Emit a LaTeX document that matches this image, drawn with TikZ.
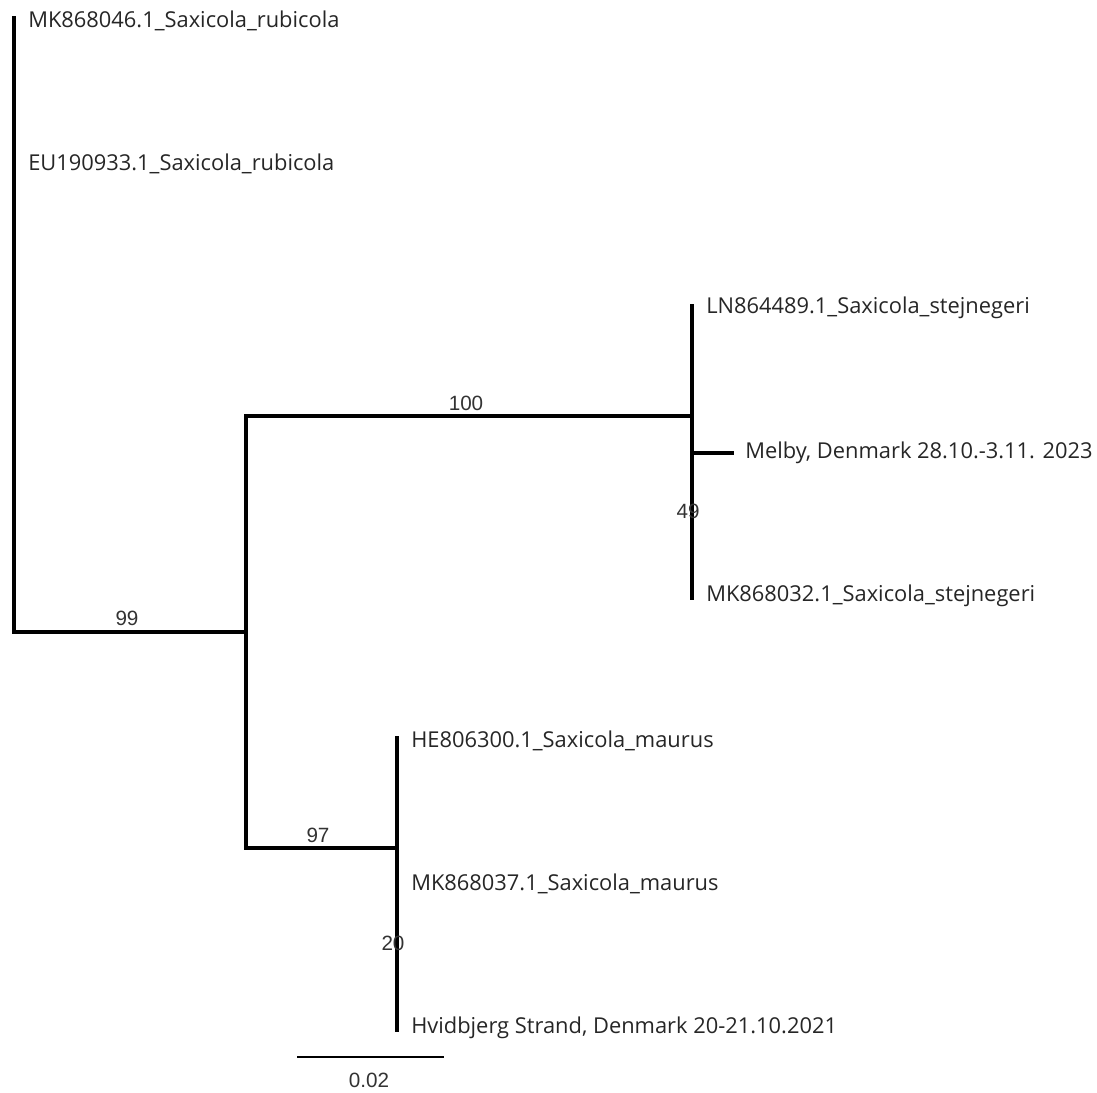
\documentclass[tikz,border=0pt]{standalone}
\usepackage{fontspec}
\setmainfont{Open Sans}
\newfontfamily\numfont{Liberation Sans}
\begin{document}
\begin{tikzpicture}[x=0.75pt,y=-0.75pt,
  branch/.style={line width=3pt,line cap=rect},
  leaf/.style={anchor=west,inner sep=0pt,font=\fontsize{16.4pt}{19pt}\selectfont,text=black!85},
  boot/.style={inner sep=0pt,font=\numfont\fontsize{15.5pt}{17pt}\selectfont,text=black!80},
  scalebar/.style={line width=1.5pt}]
\useasboundingbox (0,0) rectangle (1097,1093);
% internal nodes
\coordinate (root) at (14,632);
\coordinate (rtop) at (14,18);
\coordinate (n1) at (246,632);
\coordinate (n1top) at (246,416);
\coordinate (n1bot) at (246,848);
\coordinate (n2) at (692,416);
\coordinate (n2top) at (692,306);
\coordinate (n2bot) at (692,598);
\coordinate (n2m) at (692,453);
\coordinate (melbytip) at (732,453);
\coordinate (n3) at (397,848);
\coordinate (n3top) at (397,738);
\coordinate (n3bot) at (397,1030);
\coordinate (sbL) at (297,1057);
\coordinate (sbR) at (444,1057);
% branches
\draw[branch] (rtop) -- (root) -- (n1);
\draw[branch] (n1top) -- (n1bot);
\draw[branch] (n1top) -- (n2);
\draw[branch] (n2top) -- (n2bot);
\draw[branch] (n2m) -- (melbytip);
\draw[branch] (n1bot) -- (n3);
\draw[branch] (n3top) -- (n3bot);
\draw[scalebar] (sbL) -- (sbR);
% leaf labels
\node[leaf] (l1) at (28,21) {MK868046.1\_Saxicola\_rubicola};
\node[leaf] (l2) at (28,164) {EU190933.1\_Saxicola\_rubicola};
\node[leaf] (l3) at (706,308) {LN864489.1\_Saxicola\_stejnegeri};
\node[leaf] (l4) at (745,453) {Melby, Denmark 28.10.-3.11. 2023};
\node[leaf] (l5) at (706,596) {MK868032.1\_Saxicola\_stejnegeri};
\node[leaf] (l6) at (411,741) {HE806300.1\_Saxicola\_maurus};
\node[leaf] (l7) at (411,884) {MK868037.1\_Saxicola\_maurus};
\node[leaf] (l8) at (411,1028) {Hvidbjerg Strand, Denmark 20-21.10.2021};
% bootstrap values
\node[boot] (b99) at (127,618) {99};
\node[boot] (b100) at (466,403) {100};
\node[boot] (b49) at (688,511) {49};
\node[boot] (b97) at (318,835) {97};
\node[boot] (b20) at (393,943) {20};
% scale label
\node[boot] (sl) at (369,1080) {0.02};
\end{tikzpicture}
\end{document}
